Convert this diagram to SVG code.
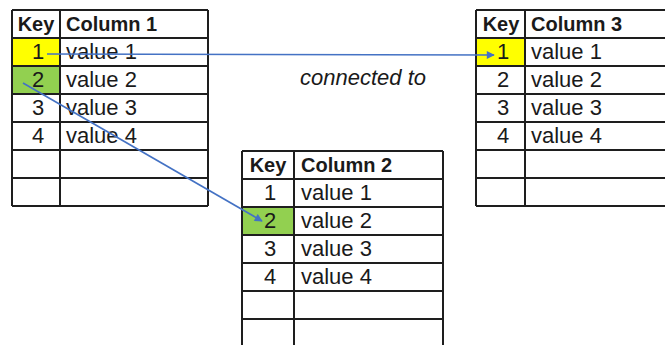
<svg xmlns="http://www.w3.org/2000/svg" width="665" height="345" viewBox="0 0 665 345">
<style>
.g{stroke:#1e1e1e;stroke-width:2;fill:none}
.t{font-family:"Liberation Sans",Arial,sans-serif;font-size:22px;fill:#1a1a1a}
.h{font-family:"Liberation Sans",Arial,sans-serif;font-size:20px;font-weight:bold;fill:#1a1a1a}
.k{text-anchor:middle}
.c{stroke:#4472C4;stroke-width:1.6;fill:none}
</style>
<defs>
<marker id="ah" viewBox="0 0 10 10" refX="9" refY="5" markerWidth="9" markerHeight="8" markerUnits="userSpaceOnUse" orient="auto">
<path d="M0,0 L10,5 L0,10 z" fill="#4472C4"/>
</marker>
</defs>
<rect width="665" height="345" fill="#fff"/>
<g id="table1">
<rect x="12" y="38" width="48" height="28" fill="#FFFF00"/>
<rect x="12" y="66" width="48" height="28" fill="#92D050"/>
<path class="g" d="M12,10H208M12,38H208M12,66H208M12,94H208M12,122H208M12,150H208M12,178H208M12,206H208M12,10V206M60,10V206M208,10V206"/>
<text class="h k" x="36" y="31">Key</text>
<text class="h" x="66" y="31">Column 1</text>
<text class="t k" x="38" y="59">1</text>
<text class="t k" x="38" y="87">2</text>
<text class="t k" x="38" y="115">3</text>
<text class="t k" x="38" y="143">4</text>
<text class="t" x="66" y="59">value 1</text>
<text class="t" x="66" y="87">value 2</text>
<text class="t" x="66" y="115">value 3</text>
<text class="t" x="66" y="143">value 4</text>
</g>
<g id="table3">
<rect x="476" y="38" width="49" height="28" fill="#FFFF00"/>
<path class="g" d="M476,10H670M476,38H670M476,66H670M476,94H670M476,122H670M476,150H670M476,178H670M476,206H670M476,10V206M525,10V206"/>
<text class="h k" x="501" y="31">Key</text>
<text class="h" x="531" y="31">Column 3</text>
<text class="t k" x="503" y="59">1</text>
<text class="t k" x="503" y="87">2</text>
<text class="t k" x="503" y="115">3</text>
<text class="t k" x="503" y="143">4</text>
<text class="t" x="531" y="59">value 1</text>
<text class="t" x="531" y="87">value 2</text>
<text class="t" x="531" y="115">value 3</text>
<text class="t" x="531" y="143">value 4</text>
</g>
<g id="table2">
<rect x="242" y="207" width="52" height="28" fill="#92D050"/>
<path class="g" d="M242,151H443M242,179H443M242,207H443M242,235H443M242,263H443M242,291H443M242,319H443M242,151V350M294,151V350M443,151V350"/>
<text class="h k" x="268" y="172">Key</text>
<text class="h" x="301" y="172">Column 2</text>
<text class="t k" x="270" y="200">1</text>
<text class="t k" x="270" y="228">2</text>
<text class="t k" x="270" y="256">3</text>
<text class="t k" x="270" y="284">4</text>
<text class="t" x="301" y="200">value 1</text>
<text class="t" x="301" y="228">value 2</text>
<text class="t" x="301" y="256">value 3</text>
<text class="t" x="301" y="284">value 4</text>
</g>
<g id="connectors">
<line class="c" x1="47" y1="54" x2="494" y2="55" marker-end="url(#ah)"/>
<line class="c" x1="23" y1="83" x2="262" y2="221" marker-end="url(#ah)"/>
</g>
<text x="300" y="85" style="font-family:'Liberation Sans',Arial,sans-serif;font-size:22px;font-style:italic;fill:#1a1a1a">connected to</text>
</svg>
